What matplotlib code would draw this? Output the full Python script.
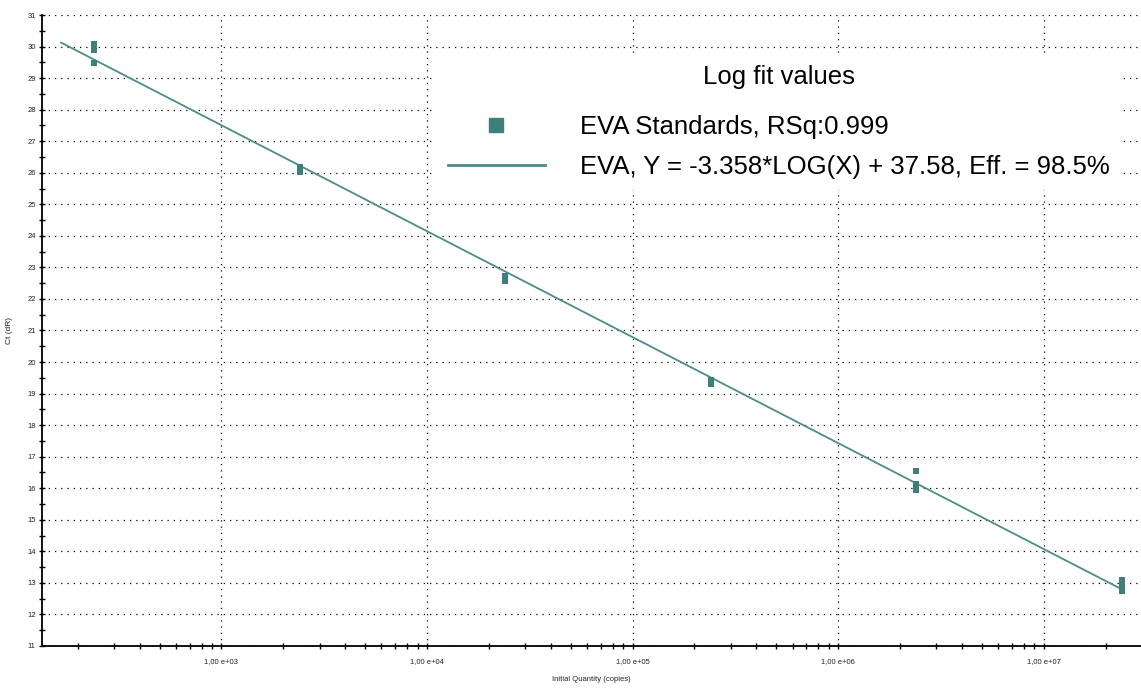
import numpy as np
import matplotlib.pyplot as plt
from matplotlib.lines import Line2D
from matplotlib.ticker import LogLocator, FuncFormatter, MultipleLocator

# Standards (copies) and replicate Ct values
quantity = [2.4e2, 2.4e2, 2.4e2,
            2.4e3, 2.4e3,
            2.4e4, 2.4e4,
            2.4e5, 2.4e5,
            2.4e6, 2.4e6, 2.4e6,
            2.4e7, 2.4e7, 2.4e7]
ct = [30.08, 29.89, 29.49,
      26.17, 26.03,
      22.74, 22.57,
      19.42, 19.32,
      16.56, 16.13, 15.95,
      13.08, 12.91, 12.74]

# Log fit
slope = -3.358
intercept = 37.58
fit_x = np.array([1.66e2, 2.4e7])
fit_y = slope * np.log10(fit_x) + intercept

teal = '#3f7f7a'
line_col = '#4c8d88'

plt.rcParams['font.family'] = ['Liberation Sans', 'DejaVu Sans']

fig = plt.figure(figsize=(11.41, 6.88), dpi=100, facecolor='white')
ax = fig.add_axes([42 / 1141, 42 / 688, 1 - 42 / 1141, (646 - 15) / 688])

ax.plot(fit_x, fit_y, color=line_col, lw=1.3, zorder=3)
ax.plot(quantity, ct, ls='none', marker='s', markersize=4.6,
        color=teal, markeredgewidth=0, zorder=4)

ax.set_xscale('log')
ax.set_xlim(1.34e2, 2.975e7)
ax.set_ylim(11, 31)

ax.xaxis.set_major_locator(LogLocator(base=10, numticks=20))
ax.xaxis.set_minor_locator(LogLocator(base=10, subs=np.arange(2, 10), numticks=20))
ax.xaxis.set_major_formatter(FuncFormatter(lambda v, p: '1,00 e+%02d' % round(np.log10(v))))
ax.yaxis.set_major_locator(MultipleLocator(1))
ax.yaxis.set_minor_locator(MultipleLocator(0.5))

ax.tick_params(axis='both', which='both', direction='inout', color='black', width=1)
ax.tick_params(axis='both', which='major', length=5, labelsize=5.5, labelcolor='#222222', pad=2)
ax.tick_params(axis='both', which='minor', length=4)
ax.tick_params(axis='x', which='major', pad=6)

ax.grid(True, which='major', ls=(0, (1, 4)), color='black', lw=0.9)
for side in ['top', 'right']:
    ax.spines[side].set_visible(False)
ax.spines['left'].set_linewidth(1.3)
ax.spines['bottom'].set_linewidth(1.3)

ax.set_xlabel('Initial Quantity (copies)', fontsize=5.5, color='#222222', labelpad=8)
ax.set_ylabel('Ct (dR)', fontsize=6, color='#222222', labelpad=10)

handles = [Line2D([], [], ls='none', marker='s', markersize=10, color=teal),
           Line2D([], [], color=line_col, lw=2)]
labels = ['EVA Standards, RSq:0.999',
          'EVA, Y = -3.358*LOG(X) + 37.58, Eff. = 98.5%']
leg = ax.legend(handles, labels, title='Log fit values', loc='upper left',
                bbox_to_anchor=(436 / 1141, 1 - 53 / 688), bbox_transform=fig.transFigure,
                fontsize=18.5, title_fontsize=18.5, frameon=True, facecolor='white',
                edgecolor='none', framealpha=1, fancybox=False, borderpad=0.45,
                borderaxespad=0, handlelength=3.8, handletextpad=1.35, labelspacing=0.62)
# wider gap between the title and the entries
leg._legend_box.sep = 19
leg.set_zorder(5)

plt.savefig('out.png', dpi=100)
